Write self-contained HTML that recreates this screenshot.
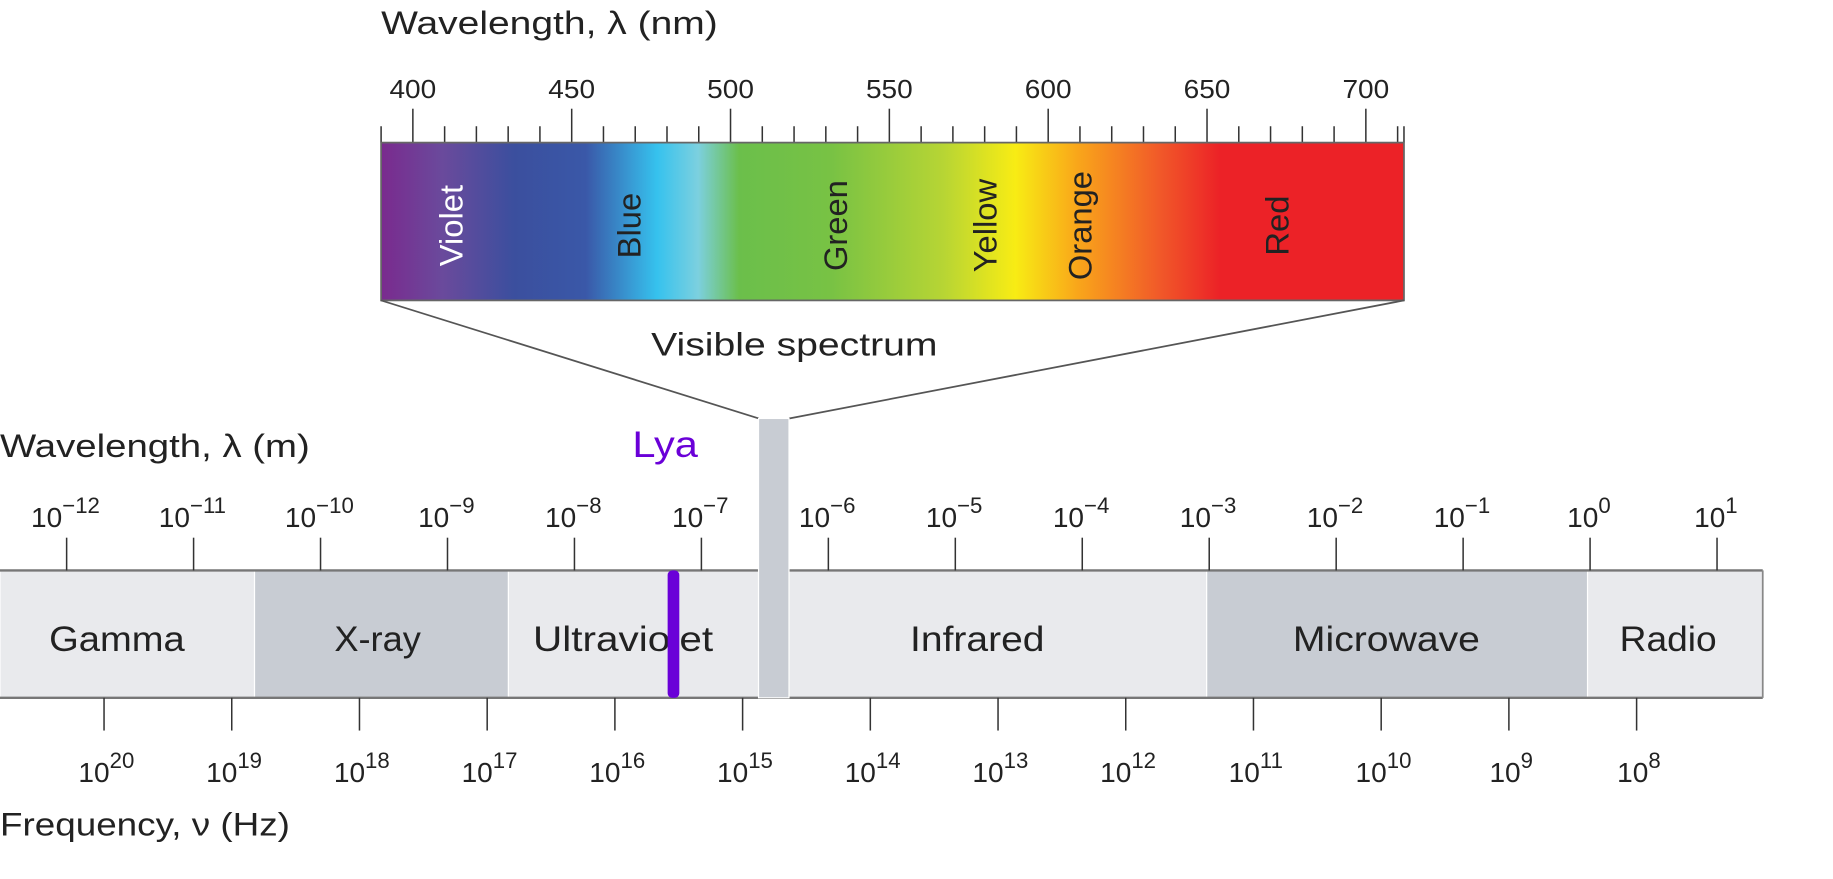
<!DOCTYPE html>
<html><head><meta charset="utf-8"><style>
html,body{margin:0;padding:0;background:#fff;}
svg{display:block;font-family:"Liberation Sans",sans-serif;}
</style></head><body>
<svg id="chart" width="1833" height="879" viewBox="0 0 1568 752" preserveAspectRatio="none" xmlns="http://www.w3.org/2000/svg">
<defs>
<linearGradient id="vis" x1="0" x2="1" y1="0" y2="0">
<stop offset="0" stop-color="#7a2a8e"/>
<stop offset="0.06" stop-color="#6a4a9c"/>
<stop offset="0.13" stop-color="#3b4f9e"/>
<stop offset="0.2" stop-color="#3a58a8"/>
<stop offset="0.27" stop-color="#36c2ee"/>
<stop offset="0.31" stop-color="#7cd0df"/>
<stop offset="0.35" stop-color="#6bbf4b"/>
<stop offset="0.44" stop-color="#78c244"/>
<stop offset="0.55" stop-color="#b7d534"/>
<stop offset="0.62" stop-color="#f8ec14"/>
<stop offset="0.68" stop-color="#f9a71a"/>
<stop offset="0.76" stop-color="#f15a29"/>
<stop offset="0.82" stop-color="#ec2227"/>
<stop offset="1" stop-color="#ec2227"/>
</linearGradient>
</defs>
<g id="g"></g>
</svg>
<script>
const nmTicks=[400,450,500,550,600,650,700];
const nmMin=390, nmMax=712;
const colorNames=["Violet","Blue","Green","Yellow","Orange","Red"];
const colorNm=[412,468,533,580,610,672];
const wlExp=[-12,-11,-10,-9,-8,-7,-6,-5,-4,-3,-2,-1,0,1];
const fqExp=[20,19,18,17,16,15,14,13,12,11,10,9,8];
const bandNames=["Gamma","X-ray","Ultraviolet","Infrared","Microwave","Radio"];
const bandStart=[-13.52,-10.52,-8.52,-6.31,-3.02,-0.02];
const bandEnd=[-10.52,-8.52,-6.55,-3.02,-0.02,1.36];
const bandDark=[0,1,0,0,1,0];
const visibleBand=[-6.55,-6.31];
const lyaExp=-7.22;

const NS="http://www.w3.org/2000/svg";
const g=document.getElementById('g');
function el(t,a,p){const e=document.createElementNS(NS,t);for(const k in a)e.setAttribute(k,a[k]);(p||g).appendChild(e);return e;}
const xNm=v=>326+(v-nmMin)/(nmMax-nmMin)*(1201-326);
const xWl=e=>57+(e+12)*108.6;
const xFq=e=>89+(20-e)*109.25;
const narrow={'lengthAdjust':'spacingAndGlyphs'};

let t=el('text',{x:326,y:29,'font-size':28,fill:'#222',textLength:288,lengthAdjust:'spacingAndGlyphs'});t.textContent='Wavelength, λ (nm)';



for(let v=nmMin;v<=710;v+=10){const x=xNm(v);const major=nmTicks.includes(v);
 const l=el('line',{x1:x,x2:x,y1:major?93:108,y2:122,stroke:'#333','stroke-width':1.3});
 
 }
el('line',{x1:1201,x2:1201,y1:108,y2:122,stroke:'#333','stroke-width':1.3});
nmTicks.forEach(v=>{const tx=el('text',{x:xNm(v),y:84,'font-size':22,'text-anchor':'middle',fill:'#222',textLength:40,lengthAdjust:'spacingAndGlyphs'});tx.textContent=v;
 
 });

const box=el('rect',{x:326,y:122,width:875,height:135,fill:'url(#vis)',stroke:'#666','stroke-width':1.5});


colorNames.forEach((n,i)=>{const x=xNm(colorNm[i]);const tx=el('text',{x:0,y:0,'font-size':28,'text-anchor':'middle',fill:n==='Violet'?'#fff':'#222',transform:`translate(${x+10},193) rotate(-90)`});tx.textContent=n;
 
 });

el('polyline',{points:'326,257 649,358',stroke:'#555','stroke-width':1.5,fill:'none'});
el('polyline',{points:'1201,257 675,358',stroke:'#555','stroke-width':1.5,fill:'none'});
t=el('text',{x:557,y:304,'font-size':28,fill:'#222',textLength:245,lengthAdjust:'spacingAndGlyphs'});t.textContent='Visible spectrum';



t=el('text',{x:0,y:391,'font-size':28,fill:'#222',textLength:265,lengthAdjust:'spacingAndGlyphs'});t.textContent='Wavelength, λ (m)';


t=el('text',{x:541,y:391,'font-size':32,fill:'#6a00d8',textLength:56,lengthAdjust:'spacingAndGlyphs'});t.textContent='Lya';



const labelW=[116,74,154,115,160,83];
const labelX=[100,323,533,836,1186,1427];
bandNames.forEach((n,i)=>{const x0=Math.max(0,xWl(bandStart[i])),x1=xWl(bandEnd[i]);
 const r=el('rect',{x:x0,y:488,width:x1-x0,height:109,fill:bandDark[i]?'#c8ccd3':'#e9eaed',stroke:'#fff','stroke-width':1});
 
 
 const tx=el('text',{x:labelX[i]-labelW[i]/2,y:557,'font-size':30,fill:'#222',textLength:labelW[i],lengthAdjust:'spacingAndGlyphs'});tx.textContent=n;
 
 });
el('line',{x1:0,x2:xWl(bandEnd[5]),y1:488,y2:488,stroke:'#777','stroke-width':2});
el('line',{x1:0,x2:xWl(bandEnd[5]),y1:597,y2:597,stroke:'#777','stroke-width':2});
el('line',{x1:xWl(bandEnd[5]),x2:xWl(bandEnd[5]),y1:488,y2:597,stroke:'#888','stroke-width':1.5});

const vb=el('rect',{x:xWl(visibleBand[0]),y:358,width:xWl(visibleBand[1])-xWl(visibleBand[0]),height:239,fill:'#c8ccd3',stroke:'#fff','stroke-width':1});



const ly=el('rect',{x:xWl(lyaExp)-5,y:488,width:10,height:109,rx:4,fill:'#6a00d8'});



wlExp.forEach(e=>{const x=xWl(e);
 const l=el('line',{x1:x,x2:x,y1:460,y2:488,stroke:'#333','stroke-width':1.3});
 
 
 const tx=el('text',{x:x-1,y:451,'font-size':24,'text-anchor':'middle',fill:'#222'});
 
 
 const a=el('tspan',{},tx);a.textContent='10';
 const b=el('tspan',{dy:-12,'font-size':19},tx);b.textContent=e<0?'−'+(-e):String(e);});

fqExp.forEach(e=>{const x=xFq(e);
 const l=el('line',{x1:x,x2:x,y1:597,y2:625,stroke:'#333','stroke-width':1.3});
 
 
 const tx=el('text',{x:x+2,y:669,'font-size':24,'text-anchor':'middle',fill:'#222'});
 
 
 const a=el('tspan',{},tx);a.textContent='10';
 const b=el('tspan',{dy:-12,'font-size':19},tx);b.textContent=String(e);});

t=el('text',{x:0,y:715,'font-size':28,fill:'#222',textLength:248,lengthAdjust:'spacingAndGlyphs'});t.textContent='Frequency, ν (Hz)';


</script>
</body></html>
